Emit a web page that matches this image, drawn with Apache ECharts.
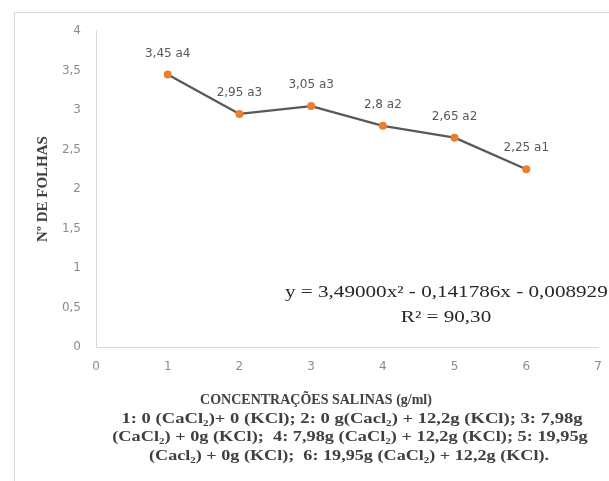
<!DOCTYPE html>
<html>
<head>
<meta charset="utf-8">
<script src="https://cdn.jsdelivr.net/npm/echarts@6/dist/echarts.min.js"></script>
<style>html,body{margin:0;padding:0;background:#fff;}#c{width:609px;height:481px;}</style>
</head>
<body>
<div id="c"></div>
<script>
var concentrations = [1, 2, 3, 4, 5, 6];
var leafCounts = [3.45, 2.95, 3.05, 2.8, 2.65, 2.25];
var groupLetters = ['a4', 'a3', 'a3', 'a2', 'a2', 'a1'];
var yTicks = {min: 0, max: 4, interval: 0.5};
var xTicks = {min: 0, max: 7, interval: 1};
var yAxisTitle = 'Nº DE FOLHAS';
var xAxisTitle = 'CONCENTRAÇÕES SALINAS (g/ml)';
var noteLines = [
  '1: 0 (CaCl₂)+ 0 (KCl); 2: 0 g(Cacl₂) + 12,2g (KCl); 3: 7,98g',
  '(CaCl₂) + 0g (KCl);  4: 7,98g (CaCl₂) + 12,2g (KCl); 5: 19,95g',
  '(Cacl₂) + 0g (KCl);  6: 19,95g (CaCl₂) + 12,2g (KCl).'
];
var equationText = 'y = 3,49000x² - 0,141786x - 0,008929';
var r2Text = 'R² = 90,30';

var seriesData = concentrations.map(function (x, i) { return [x, leafCounts[i], groupLetters[i]]; });
function comma(v) { return String(v).replace('.', ','); }

var chart = echarts.init(document.getElementById('c'), null, {renderer: 'canvas'});
var serif = '"Liberation Serif", "DejaVu Serif", serif';
var sans = '"DejaVu Sans", "Open Sans", sans-serif';
var noteFont = 'bold 15px ' + serif;
var noteColor = '#404040';
chart.setOption({
  animation: false,
  backgroundColor: '#fff',
  grid: {left: 96, right: 11, top: 31, bottom: 134, containLabel: false},
  xAxis: {
    type: 'value', min: xTicks.min, max: xTicks.max, interval: xTicks.interval,
    axisLine: {show: true, lineStyle: {color: '#d9d9d9', width: 1}},
    axisTick: {show: false},
    splitLine: {show: false},
    axisLabel: {color: '#8c8c8c', fontSize: 12, fontFamily: sans, margin: 14}
  },
  yAxis: {
    type: 'value', min: yTicks.min, max: yTicks.max, interval: yTicks.interval,
    name: yAxisTitle, nameLocation: 'middle', nameGap: 45,
    nameTextStyle: {color: '#404040', fontSize: 15, fontWeight: 'bold', fontFamily: serif},
    axisLine: {show: true, lineStyle: {color: '#d9d9d9', width: 1}},
    axisTick: {show: false},
    splitLine: {show: false},
    axisLabel: {color: '#8c8c8c', fontSize: 12, fontFamily: sans, margin: 15, formatter: function (v) { return comma(v); }}
  },
  series: [{
    type: 'line',
    data: seriesData,
    symbol: 'circle', symbolSize: 8,
    lineStyle: {color: '#595959', width: 2.25},
    itemStyle: {color: '#ED7D31'},
    label: {
      show: true, position: 'top', distance: 11,
      color: '#595959', fontSize: 12, fontFamily: sans,
      formatter: function (p) { return comma(p.data[1]) + ' ' + p.data[2]; }
    }
  }],
  graphic: [
    {type: 'rect', left: 12, top: 10, shape: {width: 640, height: 520}, style: {fill: 'none', stroke: '#d9d9d9', lineWidth: 1}, silent: true},
    {type: 'text', x: 285, y: 293, scaleX: 1.32, style: {text: equationText, font: '16px ' + serif, fill: '#262626', textAlign: 'left', textVerticalAlign: 'middle'}},
    {type: 'text', x: 446, y: 318, scaleX: 1.32, style: {text: r2Text, font: '16px ' + serif, fill: '#262626', textAlign: 'center', textVerticalAlign: 'middle'}},
    {type: 'text', x: 316, y: 400, style: {text: xAxisTitle, font: 'bold 14px ' + serif, fill: noteColor, textAlign: 'center', textVerticalAlign: 'middle'}},
    {type: 'text', x: 352, y: 419, scaleX: 1.24, style: {text: noteLines[0], font: noteFont, fill: noteColor, textAlign: 'center', textVerticalAlign: 'middle'}},
    {type: 'text', x: 350, y: 437, scaleX: 1.22, style: {text: noteLines[1], font: noteFont, fill: noteColor, textAlign: 'center', textVerticalAlign: 'middle'}},
    {type: 'text', x: 349, y: 456, scaleX: 1.21, style: {text: noteLines[2], font: noteFont, fill: noteColor, textAlign: 'center', textVerticalAlign: 'middle'}}
  ]
});
</script>
</body>
</html>
